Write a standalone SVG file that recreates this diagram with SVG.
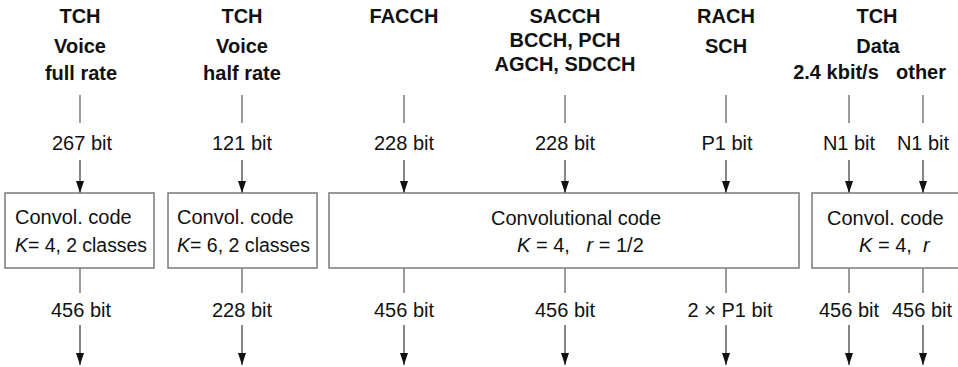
<svg xmlns="http://www.w3.org/2000/svg" width="958" height="367" viewBox="0 0 958 367">
<style>
.h{font-family:"Liberation Sans",Arial,sans-serif;font-weight:bold;font-size:20px;fill:#111;text-anchor:middle}
.t{font-family:"Liberation Sans",Arial,sans-serif;font-size:20px;fill:#111;text-anchor:middle}
.s{text-anchor:start}
.i{font-style:italic}
.box{fill:#fff;stroke:#7a7a7a;stroke-width:1.5}
.ln{stroke:#666;stroke-width:1.3;fill:none}
.ar{stroke:#444;stroke-width:1.3;fill:none;marker-end:url(#ah)}
</style>
<defs>
<marker id="ah" viewBox="0 0 12 8" refX="12" refY="4" markerWidth="12" markerHeight="8" markerUnits="userSpaceOnUse" orient="auto">
<path d="M0,0 L12,4 L0,8 z" fill="#111"/>
</marker>
</defs>
<rect width="958" height="367" fill="#fff"/>

<g id="labels-top">
<text class="h" x="80" y="23">TCH</text>
<text class="h" x="80" y="53">Voice</text>
<text class="h" x="81" y="80">full rate</text>
<text class="h" x="242" y="23">TCH</text>
<text class="h" x="242" y="53">Voice</text>
<text class="h" x="242" y="80">half rate</text>
<text class="h" x="404" y="23">FACCH</text>
<text class="h" x="565" y="23">SACCH</text>
<text class="h" x="565" y="47">BCCH, PCH</text>
<text class="h" x="565" y="71">AGCH, SDCCH</text>
<text class="h" x="726" y="23">RACH</text>
<text class="h" x="726" y="53">SCH</text>
<text class="h" x="877" y="23">TCH</text>
<text class="h" x="878" y="53">Data</text>
<text class="h" x="836" y="79">2.4 kbit/s</text>
<text class="h" x="921" y="79">other</text>
</g>

<g id="connectors">
<line class="ln" x1="80" y1="95" x2="80" y2="123"/>
<line class="ln" x1="242" y1="95" x2="242" y2="123"/>
<line class="ln" x1="404" y1="95" x2="404" y2="123"/>
<line class="ln" x1="565" y1="95" x2="565" y2="123"/>
<line class="ln" x1="726" y1="95" x2="726" y2="123"/>
<line class="ln" x1="849" y1="95" x2="849" y2="123"/>
<line class="ln" x1="923" y1="95" x2="923" y2="123"/>

<line class="ar" x1="80" y1="160" x2="80" y2="193"/>
<line class="ar" x1="242" y1="160" x2="242" y2="193"/>
<line class="ar" x1="404" y1="160" x2="404" y2="193"/>
<line class="ar" x1="565" y1="160" x2="565" y2="193"/>
<line class="ar" x1="726" y1="160" x2="726" y2="193"/>
<line class="ar" x1="849" y1="160" x2="849" y2="193"/>
<line class="ar" x1="923" y1="160" x2="923" y2="193"/>

<line class="ln" x1="80" y1="268" x2="80" y2="293"/>
<line class="ln" x1="242" y1="268" x2="242" y2="293"/>
<line class="ln" x1="404" y1="268" x2="404" y2="293"/>
<line class="ln" x1="565" y1="268" x2="565" y2="293"/>
<line class="ln" x1="726" y1="268" x2="726" y2="293"/>
<line class="ln" x1="849" y1="268" x2="849" y2="293"/>
<line class="ln" x1="923" y1="268" x2="923" y2="293"/>

<line class="ar" x1="80" y1="325" x2="80" y2="365"/>
<line class="ar" x1="242" y1="325" x2="242" y2="365"/>
<line class="ar" x1="404" y1="325" x2="404" y2="365"/>
<line class="ar" x1="565" y1="325" x2="565" y2="365"/>
<line class="ar" x1="726" y1="325" x2="726" y2="365"/>
<line class="ar" x1="849" y1="325" x2="849" y2="365"/>
<line class="ar" x1="923" y1="325" x2="923" y2="365"/>
</g>

<g id="bits-in">
<text class="t" x="82" y="150">267 bit</text>
<text class="t" x="242" y="150">121 bit</text>
<text class="t" x="404" y="150">228 bit</text>
<text class="t" x="565" y="150">228 bit</text>
<text class="t" x="727" y="150">P1 bit</text>
<text class="t" x="849" y="150">N1 bit</text>
<text class="t" x="923" y="150">N1 bit</text>
</g>

<g id="node-fullrate">
<rect class="box" x="5" y="193" width="149" height="75"/>
<text class="t s" x="15" y="224">Convol. code</text>
<text class="t s" x="15" y="252" textLength="132" lengthAdjust="spacingAndGlyphs"><tspan class="i">K</tspan>= 4, 2 classes</text>
</g>

<g id="node-halfrate">
<rect class="box" x="168" y="193" width="149" height="75"/>
<text class="t s" x="177" y="224">Convol. code</text>
<text class="t s" x="177" y="252" textLength="133" lengthAdjust="spacingAndGlyphs"><tspan class="i">K</tspan>= 6, 2 classes</text>
</g>

<g id="node-convolutional">
<rect class="box" x="329" y="193" width="470" height="75"/>
<text class="t s" x="491" y="225">Convolutional code</text>
<text class="t s" x="517" y="252" xml:space="preserve"><tspan class="i">K</tspan> = 4,   <tspan class="i">r</tspan> = 1/2</text>
</g>

<g id="node-data">
<rect class="box" x="812" y="193" width="160" height="75"/>
<text class="t s" x="827" y="225">Convol. code</text>
<text class="t s" x="859" y="252" xml:space="preserve"><tspan class="i">K</tspan> = 4,  <tspan class="i">r</tspan></text>
</g>

<g id="bits-out">
<text class="t" x="81" y="317">456 bit</text>
<text class="t" x="242" y="317">228 bit</text>
<text class="t" x="404" y="317">456 bit</text>
<text class="t" x="565" y="317">456 bit</text>
<text class="t" x="730" y="317">2 × P1 bit</text>
<text class="t" x="849" y="317">456 bit</text>
<text class="t" x="922" y="317">456 bit</text>
</g>
</svg>
